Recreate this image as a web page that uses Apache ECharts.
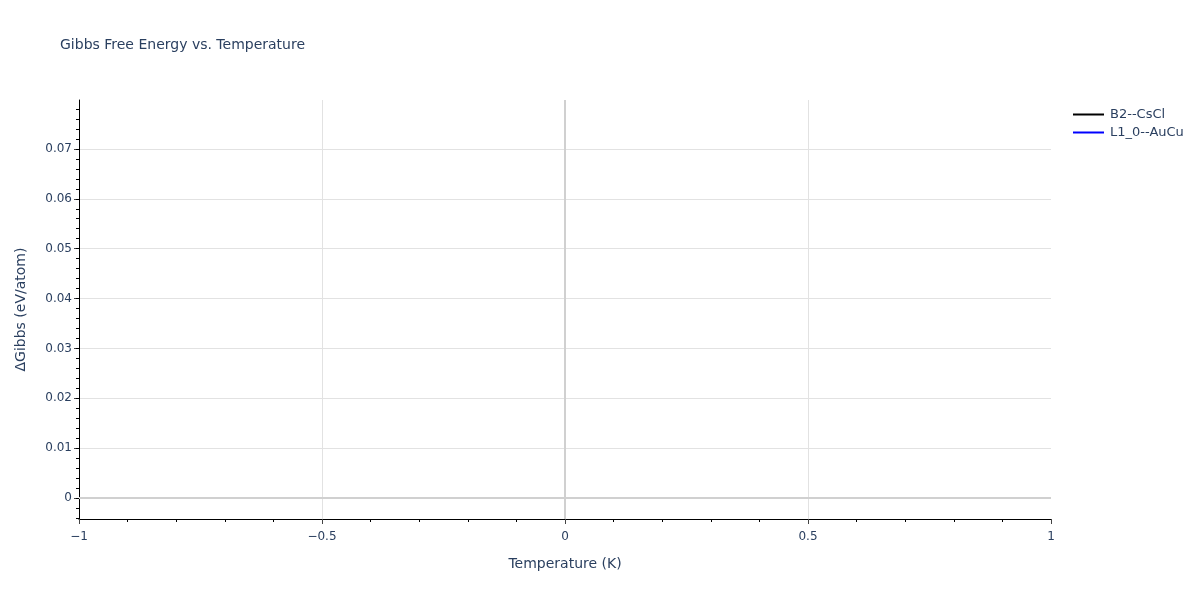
<!DOCTYPE html>
<html>
<head>
<meta charset="utf-8">
<script src="https://cdn.jsdelivr.net/npm/echarts@6/dist/echarts.min.js"></script>
<style>html,body{margin:0;padding:0;background:#fff}#c{width:1200px;height:600px}</style>
</head>
<body>
<div id="c"></div>
<script>
// Data (temperature in K, ΔGibbs in eV/atom)
const seriesNames = ['B2--CsCl', 'L1_0--AuCu'];
const seriesColors = ['#000000', '#0000ff'];
const b2Temp = [0];
const b2Gibbs = [0.0756];
const l10Temp = [0];
const l10Gibbs = [0];
const yMajorTicks = [0, 0.01, 0.02, 0.03, 0.04, 0.05, 0.06, 0.07];

const FONT = '"DejaVu Sans", verdana, arial, sans-serif';
const TXT = '#2a3f5f';
const GRID = '#e2e2e2';
const ZERO = '#d0d0d0';

function pairs(xs, ys) { return xs.map((x, i) => [x, ys[i]]); }

const chart = echarts.init(document.getElementById('c'), null, {renderer: 'canvas'});
chart.setOption({
  backgroundColor: '#fff',
  animation: false,
  textStyle: {fontFamily: FONT},
  title: {
    text: 'Gibbs Free Energy vs. Temperature',
    left: 60, top: 38, padding: 0,
    textStyle: {fontFamily: FONT, fontSize: 14, fontWeight: 'normal', color: TXT}
  },
  legend: {
    orient: 'vertical', left: 1073, top: 108, itemGap: 5, padding: 0,
    itemWidth: 31, itemHeight: 2, icon: 'rect',
    data: seriesNames,
    textStyle: {fontFamily: FONT, fontSize: 13, color: TXT, padding: [0, 0, 0, 1]}
  },
  grid: [
    {left: 79, right: 149, top: 100, bottom: 81},   // main plot
    {left: 79, right: 149, top: 149, bottom: 102},  // major y ticks / gridlines (0..0.07)
    {left: 79, right: 149, top: 109, bottom: 82}    // minor y ticks (-0.004..0.078)
  ],
  xAxis: [
    {
      gridIndex: 0, type: 'value', min: -1, max: 1, interval: 0.5,
      name: 'Temperature (K)', nameLocation: 'middle', nameGap: 38,
      nameTextStyle: {fontFamily: FONT, fontSize: 14, color: TXT},
      axisLine: {show: true, onZero: false, lineStyle: {color: '#000', width: 1}},
      axisTick: {show: true, length: 5, lineStyle: {color: '#444'}},
      minorTick: {show: true, splitNumber: 5, length: 3, lineStyle: {color: '#000'}},
      axisLabel: {fontFamily: FONT, fontSize: 12, color: TXT, margin: 12,
        formatter: v => (v < 0 ? '\u2212' + Math.abs(v) : String(v))},
      splitLine: {show: true, showMinLine: false, showMaxLine: false, lineStyle: {color: GRID, width: 1}}
    },
    {gridIndex: 1, type: 'value', min: -1, max: 1, show: false, axisLine: {onZero: false}},
    {gridIndex: 2, type: 'value', min: -1, max: 1, show: false, axisLine: {onZero: false}}
  ],
  yAxis: [
    {
      gridIndex: 0, type: 'value', min: -0.0042, max: 0.0798,
      name: '\u0394Gibbs (eV/atom)', nameLocation: 'middle', nameGap: 51,
      nameTextStyle: {fontFamily: FONT, fontSize: 14, color: TXT},
      axisLine: {show: true, onZero: false, lineStyle: {color: '#000', width: 1}},
      axisTick: {show: false}, axisLabel: {show: false}, splitLine: {show: false}
    },
    {
      gridIndex: 1, type: 'value', min: 0, max: 0.07, interval: 0.01,
      axisLine: {show: false, onZero: false},
      axisTick: {show: true, length: 5, lineStyle: {color: '#444'}},
      axisLabel: {fontFamily: FONT, fontSize: 12, color: TXT, margin: 7,
        formatter: v => (Math.abs(v) < 1e-9 ? '0' : v.toFixed(2))},
      splitLine: {show: true, lineStyle: {color: GRID, width: 1}}
    },
    {
      gridIndex: 2, type: 'value', min: -0.004, max: 0.078, interval: 0.002,
      axisLine: {show: false, onZero: false},
      axisTick: {show: true, length: 3, lineStyle: {color: '#000'}},
      axisLabel: {show: false}, splitLine: {show: false}
    }
  ],
  series: [
    {
      name: seriesNames[0], type: 'line', xAxisIndex: 0, yAxisIndex: 0,
      data: pairs(b2Temp, b2Gibbs), showSymbol: false, symbol: 'none',
      color: seriesColors[0], lineStyle: {color: seriesColors[0], width: 2},
      z: 5,
      markLine: {
        silent: true, symbol: 'none', label: {show: false},
        lineStyle: {color: ZERO, width: 2, type: 'solid'},
        data: [{xAxis: 0}, {yAxis: 0}],
        z: 1
      }
    },
    {
      name: seriesNames[1], type: 'line', xAxisIndex: 0, yAxisIndex: 0,
      data: pairs(l10Temp, l10Gibbs), showSymbol: false, symbol: 'none',
      color: seriesColors[1], lineStyle: {color: seriesColors[1], width: 2},
      z: 5
    }
  ]
});
</script>
</body>
</html>
